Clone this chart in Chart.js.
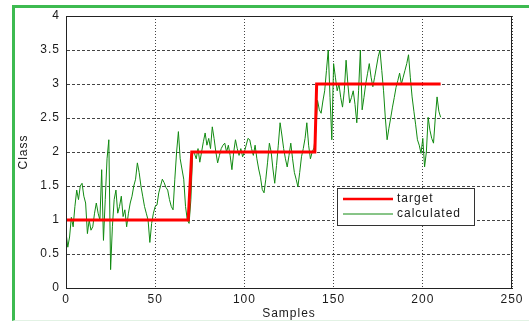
<!DOCTYPE html>
<html>
<head>
<meta charset="utf-8">
<script src="https://cdn.jsdelivr.net/npm/chart.js@4.4.1/dist/chart.umd.min.js"></script>
<style>
  html, body { margin: 0; padding: 0; background: #fff; }
  #wrap { position: relative; width: 529px; height: 324px; overflow: hidden; }
  #frame {
    position: absolute; left: 12px; top: 5px; width: 600px; height: 312px;
    border-left: 3px solid #3dba50; border-top: 3px solid #3dba50;
    border-bottom: 1px solid #e2f2e4; pointer-events: none;
  }
  canvas { position: absolute; left: 0; top: 0; }
</style>
</head>
<body>
<div id="wrap">
  <canvas id="myChart" width="529" height="324"></canvas>
  <div id="frame"></div>
</div>
<script>
// step target
const targetX = [0, 68.5, 70.5, 139.5, 140.5, 210];
const targetY = [1, 1, 2, 2, 3, 3];

// calculated output, one value per sample (0..210)
const calculated = [
  0.82, 0.6, 0.75, 1.04, 0.9, 1.2, 1.44, 1.3, 1.5, 1.54,
  1.35, 1.25, 0.8, 1.0, 0.85, 0.9, 1.1, 1.25, 1.1, 1.0,
  1.74, 0.7, 1.3, 1.9, 2.18, 0.27, 0.9, 1.3, 1.44, 1.1,
  1.2, 1.35, 1.05, 1.15, 0.9, 1.1, 1.25, 1.35, 1.5, 1.6,
  1.84, 1.7, 1.5, 1.35, 1.2, 1.1, 1.0, 0.67, 0.95, 1.1,
  1.2, 1.22, 1.4, 1.5, 1.6, 1.55, 1.48, 1.44, 1.3, 1.2,
  1.15, 1.6, 2.0, 2.3, 1.9, 1.75, 1.6, 1.2, 1.0, 0.95,
  1.3, 2.0,
  1.98, 1.9, 2.05, 1.85, 2.0, 2.15, 2.28, 2.1,
  2.2, 2.05, 2.37, 2.2, 2.0, 1.84, 1.95, 2.05, 2.1, 2.13,
  2.0, 2.1, 1.95, 1.74, 2.0, 2.18, 2.05, 1.95, 2.05,
  1.93, 2.0, 2.1, 2.2, 2.18, 2.05, 1.95, 2.1, 1.9, 1.75,
  1.63, 1.45, 1.4, 1.6, 1.85, 2.13, 2.0, 1.75, 1.54, 1.8,
  2.1, 2.43, 2.25, 2.05, 1.9, 1.78, 1.95, 2.13, 1.9, 1.7,
  1.6, 1.49, 1.7, 1.93, 2.05, 2.2, 2.43, 2.1, 1.9, 2.0,
  2.06, 2.3, 2.76,
  2.62, 2.57, 2.75, 2.9, 3.2, 3.5, 2.8, 2.18, 3.3,
  3.1, 2.9, 3.0, 2.8, 2.66, 2.9, 3.35, 3.0, 2.72,
  2.8, 2.9, 2.7, 2.43, 2.9, 3.5, 2.62, 2.8, 3.0, 3.15,
  3.3, 3.1, 2.96, 3.1, 3.25, 3.4, 3.5, 3.2, 2.9, 2.5,
  2.18, 2.35, 2.5, 2.66, 2.8, 2.95, 3.05, 3.16, 3.0, 3.1,
  3.2, 3.3, 3.43, 3.1, 2.81, 2.6, 2.4, 2.18, 2.1, 1.98,
  2.2, 1.78, 2.0, 2.51, 2.32, 2.2, 2.13, 2.5, 2.81, 2.6, 2.51
];

const xTicks = [0, 50, 100, 150, 200, 250];
const yTicks = [0, 0.5, 1, 1.5, 2, 2.5, 3, 3.5, 4];

const fontFamily = 'Arial, "Liberation Sans", Helvetica, sans-serif';
const textColor = '#1a1a1a';

// letter spacing like the matlab figure
const spacingPlugin = {
  id: 'spacing',
  beforeDraw(chart) {
    chart.ctx.letterSpacing = '1px';
  }
};

// full box around axes + legend in the lower right
const boxPlugin = {
  id: 'box',
  afterDatasetsDraw(chart) {
    const ctx = chart.ctx;
    const a = chart.chartArea;
    ctx.save();
    ctx.strokeStyle = '#222';
    ctx.lineWidth = 1;
    ctx.setLineDash([]);
    ctx.strokeRect(Math.round(a.left) + 0.5, Math.round(a.top) + 0.5,
      Math.round(a.right - a.left) - 1, Math.round(a.bottom - a.top));

    // legend
    const lx = a.left + 271, ly = a.top + 172, lw = 137, lh = 37;
    ctx.fillStyle = '#fff';
    ctx.fillRect(lx, ly, lw, lh);
    ctx.strokeStyle = '#333';
    ctx.strokeRect(lx + 0.5, ly + 0.5, lw, lh);
    ctx.font = '12px ' + fontFamily;
    ctx.textBaseline = 'middle';
    ctx.textAlign = 'left';
    chart.data.datasets.forEach((ds, i) => {
      const y = ly + 11 + i * 15;
      ctx.beginPath();
      ctx.strokeStyle = ds.borderColor;
      ctx.lineWidth = i === 0 ? 2.5 : 1;
      ctx.moveTo(lx + 6, y);
      ctx.lineTo(lx + 56, y);
      ctx.stroke();
      ctx.fillStyle = textColor;
      ctx.fillText(ds.label, lx + 60, y);
    });
    ctx.restore();
  }
};

const ctx = document.getElementById('myChart');

new Chart(ctx, {
  type: 'line',
  data: {
    datasets: [
      {
        label: 'target',
        data: targetX.map((x, i) => ({ x: x, y: targetY[i] })),
        borderColor: '#ff0000',
        borderWidth: 3,
        pointRadius: 0,
        tension: 0
      },
      {
        label: 'calculated',
        data: calculated.map((v, i) => ({ x: i, y: v })),
        borderColor: '#118a11',
        borderWidth: 1,
        pointRadius: 0,
        tension: 0
      }
    ]
  },
  options: {
    responsive: false,
    animation: false,
    devicePixelRatio: 1,
    layout: {
      padding: { left: 0, top: 16, right: 17, bottom: 0 }
    },
    plugins: {
      legend: { display: false },
      tooltip: { enabled: false }
    },
    scales: {
      x: {
        type: 'linear',
        min: 0,
        max: 250,
        afterBuildTicks(scale) {
          scale.ticks = xTicks.map(v => ({ value: v }));
        },
        afterFit(scale) { scale.height = 36; },
        ticks: {
          color: textColor,
          padding: 4,
          maxRotation: 0,
          callback: v => String(v),
          font: { size: 12, family: fontFamily }
        },
        grid: { color: '#444', drawTicks: false },
        border: { color: '#222', dash: [1, 2] },
        title: {
          display: true,
          text: 'Samples',
          color: textColor,
          padding: { top: 0, bottom: 3 },
          font: { size: 12, family: fontFamily }
        }
      },
      y: {
        min: 0,
        max: 4,
        afterBuildTicks(scale) {
          scale.ticks = yTicks.map(v => ({ value: v }));
        },
        afterFit(scale) { scale.width = 66; },
        ticks: {
          color: textColor,
          padding: 6,
          callback: v => String(v),
          font: { size: 12, family: fontFamily }
        },
        grid: { color: '#444', drawTicks: false },
        border: { color: '#222', dash: [3, 2] },
        title: {
          display: true,
          text: 'Class',
          color: textColor,
          padding: { top: 16, bottom: 0 },
          font: { size: 12, family: fontFamily }
        }
      }
    }
  },
  plugins: [spacingPlugin, boxPlugin]
});
</script>
</body>
</html>
